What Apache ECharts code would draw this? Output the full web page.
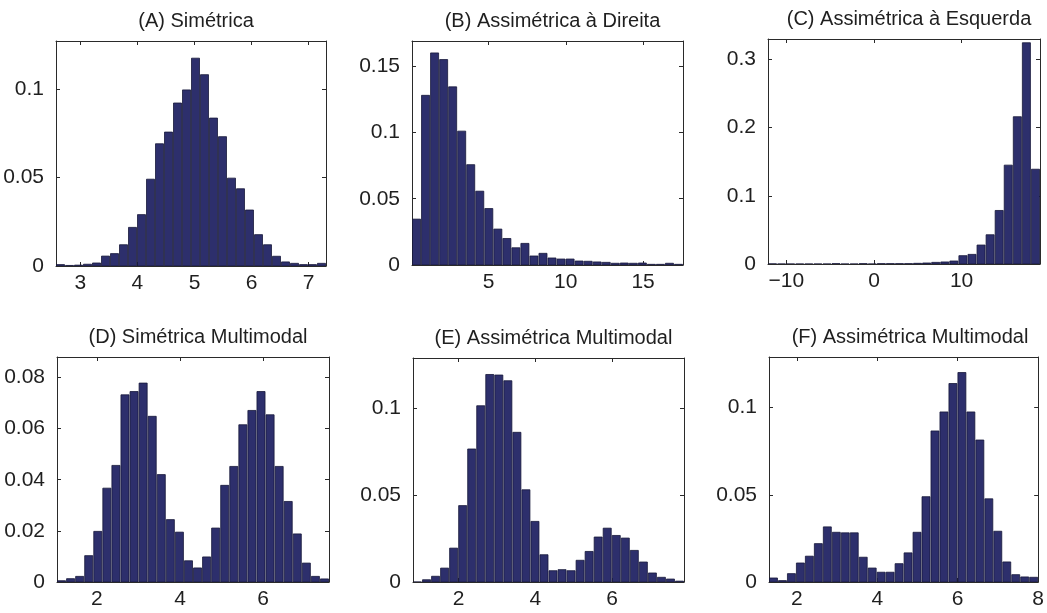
<!DOCTYPE html>
<html>
<head>
<meta charset="utf-8">
<script src="https://cdn.jsdelivr.net/npm/echarts@6/dist/echarts.min.js"></script>
<style>
  html, body { margin: 0; padding: 0; background: #ffffff; }
  #chart { width: 1047px; height: 613px; }
</style>
</head>
<body>
<div id="chart"></div>
<script>
// Relative frequencies of 30 equal-width bins per histogram

// (A) Simétrica
const titleA = '(A) Simétrica';
const binRangeA = [2.574, 7.304];
const heightsA = [0.0008, 0.0003, 0.0005, 0.001, 0.0017, 0.0056, 0.007, 0.012, 0.0218, 0.029,
  0.049, 0.069, 0.0756, 0.092, 0.0994, 0.1173, 0.108, 0.0835, 0.073, 0.0496,
  0.0436, 0.0316, 0.0177, 0.012, 0.0055, 0.0023, 0.0015, 0.0008, 0.0008, 0.0015];
const yMaxA = 0.127;
const xTicksA = [3, 4, 5, 6, 7];
const yTicksA = [0, 0.05, 0.1];

// (B) Assimétrica à Direita
const titleB = '(B) Assimétrica à Direita';
const binRangeB = [0.054, 17.58];
const heightsB = [0.0346, 0.128, 0.160, 0.155, 0.1344, 0.101, 0.0757, 0.0557, 0.0426, 0.0271,
  0.020, 0.013, 0.0163, 0.0068, 0.0088, 0.0053, 0.0045, 0.0045, 0.003, 0.0028,
  0.0023, 0.002, 0.0013, 0.0015, 0.0013, 0.0015, 0.0005, 0.0005, 0.0013, 0.0005];
const yMaxB = 0.169;
const xTicksB = [5, 10, 15];
const yTicksB = [0, 0.05, 0.1, 0.15];

// (C) Assimétrica à Esquerda
const titleC = '(C) Assimétrica à Esquerda';
const binRangeC = [-12.1, 18.95];
const heightsC = [0.0002, 0, 0, 0, 0, 0, 0, 0.0005, 0, 0,
  0.0005, 0, 0.0005, 0.0005, 0.0005, 0.0005, 0.001, 0.0015, 0.0024, 0.003,
  0.0044, 0.0122, 0.0141, 0.0278, 0.0429, 0.0785, 0.145, 0.216, 0.3245, 0.139];
const yMaxC = 0.33;
const xTicksC = [-10, 0, 10];
const yTicksC = [0, 0.1, 0.2, 0.3];

// (D) Simétrica Multimodal
const titleD = '(D) Simétrica Multimodal';
const binRangeD = [1.04, 7.584];
const heightsD = [0.0005, 0.0013, 0.0022, 0.0103, 0.0198, 0.0367, 0.0456, 0.0732, 0.0745, 0.0778,
  0.0648, 0.042, 0.0244, 0.0195, 0.0083, 0.0055, 0.0098, 0.0211, 0.0378, 0.0452,
  0.0615, 0.0671, 0.0745, 0.0654, 0.0452, 0.0315, 0.0188, 0.0074, 0.0022, 0.0012];
const yMaxD = 0.088;
const xTicksD = [2, 4, 6];
const yTicksD = [0, 0.02, 0.04, 0.06, 0.08];

// (E) Assimétrica Multimodal
const titleE = '(E) Assimétrica Multimodal';
const binRangeE = [0.814, 7.87];
const heightsE = [0, 0.0013, 0.0033, 0.008, 0.0195, 0.044, 0.0766, 0.1015, 0.1195, 0.1192,
  0.1159, 0.0862, 0.0531, 0.0349, 0.0157, 0.0065, 0.0071, 0.0065, 0.0125, 0.0176,
  0.0259, 0.031, 0.0268, 0.0253, 0.0182, 0.0115, 0.0052, 0.0027, 0.0017, 0.0005];
const yMaxE = 0.129;
const xTicksE = [2, 4, 6];
const yTicksE = [0, 0.05, 0.1];

// (F) Assimétrica Multimodal
const titleF = '(F) Assimétrica Multimodal';
const binRangeF = [1.31, 8.0];
const heightsF = [0.0023, 0.0008, 0.0048, 0.0109, 0.0148, 0.022, 0.0316, 0.0285, 0.0282, 0.0282,
  0.0142, 0.008, 0.0056, 0.0056, 0.0105, 0.0167, 0.0285, 0.0489, 0.0866, 0.0975,
  0.1138, 0.1201, 0.0975, 0.0814, 0.0477, 0.0291, 0.0115, 0.0042, 0.0029, 0.0027];
const yMaxF = 0.129;
const xTicksF = [2, 4, 6, 8];
const yTicksF = [0, 0.05, 0.1];

// Panel placement on the page (pixels)
const panels = [
  { title: titleA, range: binRangeA, heights: heightsA, yMax: yMaxA, xTicks: xTicksA, yTicks: yTicksA,
    box: { left: 56, top: 41, width: 270, height: 225 } },
  { title: titleB, range: binRangeB, heights: heightsB, yMax: yMaxB, xTicks: xTicksB, yTicks: yTicksB,
    box: { left: 412, top: 41, width: 271, height: 224 } },
  { title: titleC, range: binRangeC, heights: heightsC, yMax: yMaxC, xTicks: xTicksC, yTicks: yTicksC,
    box: { left: 768, top: 39, width: 272, height: 225 } },
  { title: titleD, range: binRangeD, heights: heightsD, yMax: yMaxD, xTicks: xTicksD, yTicks: yTicksD,
    box: { left: 57, top: 357, width: 272, height: 225 } },
  { title: titleE, range: binRangeE, heights: heightsE, yMax: yMaxE, xTicks: xTicksE, yTicks: yTicksE,
    box: { left: 413, top: 358, width: 271, height: 224 } },
  { title: titleF, range: binRangeF, heights: heightsF, yMax: yMaxF, xTicks: xTicksF, yTicks: yTicksF,
    box: { left: 769, top: 357, width: 272, height: 225 } }
];

const FONT = "'Liberation Sans', Arial, Helvetica, sans-serif";
const INK = '#1f1f1f';
const BAR_FILL = '#2d2f6c';
const BAR_EDGE = '#17183a';

function formatTick(v) {
  return v < 0 ? '\u2212' + Math.abs(v) : String(v);
}

function renderBin(params, api) {
  const p0 = api.coord([api.value(0), 0]);
  const p1 = api.coord([api.value(1), api.value(2)]);
  const w = p1[0] - p0[0];
  return {
    type: 'rect',
    shape: { x: p0[0] + 0.5, y: p1[1], width: Math.max(w - 1, 0.5), height: p0[1] - p1[1] },
    style: { fill: BAR_FILL, stroke: BAR_EDGE, lineWidth: 0.8 }
  };
}

const grid = [], xAxis = [], yAxis = [], series = [], title = [];
const lineStyle = { color: '#2a2a2a', width: 1 };

panels.forEach((p, i) => {
  grid.push(Object.assign({ containLabel: false }, p.box));
  title.push({
    text: p.title,
    left: p.box.left + p.box.width / 2,
    top: p.box.top - 35,
    textAlign: 'center',
    textStyle: { fontFamily: FONT, fontSize: 20, fontWeight: 'normal', color: INK }
  });
  const n = p.heights.length;
  const step = (p.range[1] - p.range[0]) / n;
  const data = p.heights.map((h, k) => [p.range[0] + k * step, p.range[0] + (k + 1) * step, h]);

  // bottom and top x axes (top one only mirrors ticks)
  xAxis.push({
    type: 'value', gridIndex: i, position: 'bottom', min: p.range[0], max: p.range[1],
    axisLine: { show: true, onZero: false, lineStyle },
    axisTick: { show: true, inside: true, length: 4, customValues: p.xTicks, lineStyle },
    axisLabel: { show: true, customValues: p.xTicks, formatter: formatTick, margin: 7,
      fontFamily: FONT, fontSize: 21, color: INK },
    splitLine: { show: false }
  });
  xAxis.push({
    type: 'value', gridIndex: i, position: 'top', min: p.range[0], max: p.range[1],
    axisLine: { show: true, onZero: false, lineStyle },
    axisTick: { show: true, inside: true, length: 4, customValues: p.xTicks, lineStyle },
    axisLabel: { show: false },
    splitLine: { show: false }
  });
  // left and right y axes (right one only mirrors ticks)
  yAxis.push({
    type: 'value', gridIndex: i, position: 'left', min: 0, max: p.yMax,
    axisLine: { show: true, onZero: false, lineStyle },
    axisTick: { show: true, inside: true, length: 4, customValues: p.yTicks, lineStyle },
    axisLabel: { show: true, customValues: p.yTicks, formatter: formatTick, margin: 12,
      fontFamily: FONT, fontSize: 21, color: INK },
    splitLine: { show: false }
  });
  yAxis.push({
    type: 'value', gridIndex: i, position: 'right', min: 0, max: p.yMax,
    axisLine: { show: true, onZero: false, lineStyle },
    axisTick: { show: true, inside: true, length: 4, customValues: p.yTicks, lineStyle },
    axisLabel: { show: false },
    splitLine: { show: false }
  });

  series.push({
    type: 'custom',
    xAxisIndex: 2 * i,
    yAxisIndex: 2 * i,
    renderItem: renderBin,
    encode: { x: [0, 1], y: 2 },
    data: data,
    clip: true,
    silent: true
  });
});

const chart = echarts.init(document.getElementById('chart'), null, { renderer: 'canvas' });
chart.setOption({
  backgroundColor: '#ffffff',
  animation: false,
  title, grid, xAxis, yAxis, series
});
</script>
</body>
</html>
